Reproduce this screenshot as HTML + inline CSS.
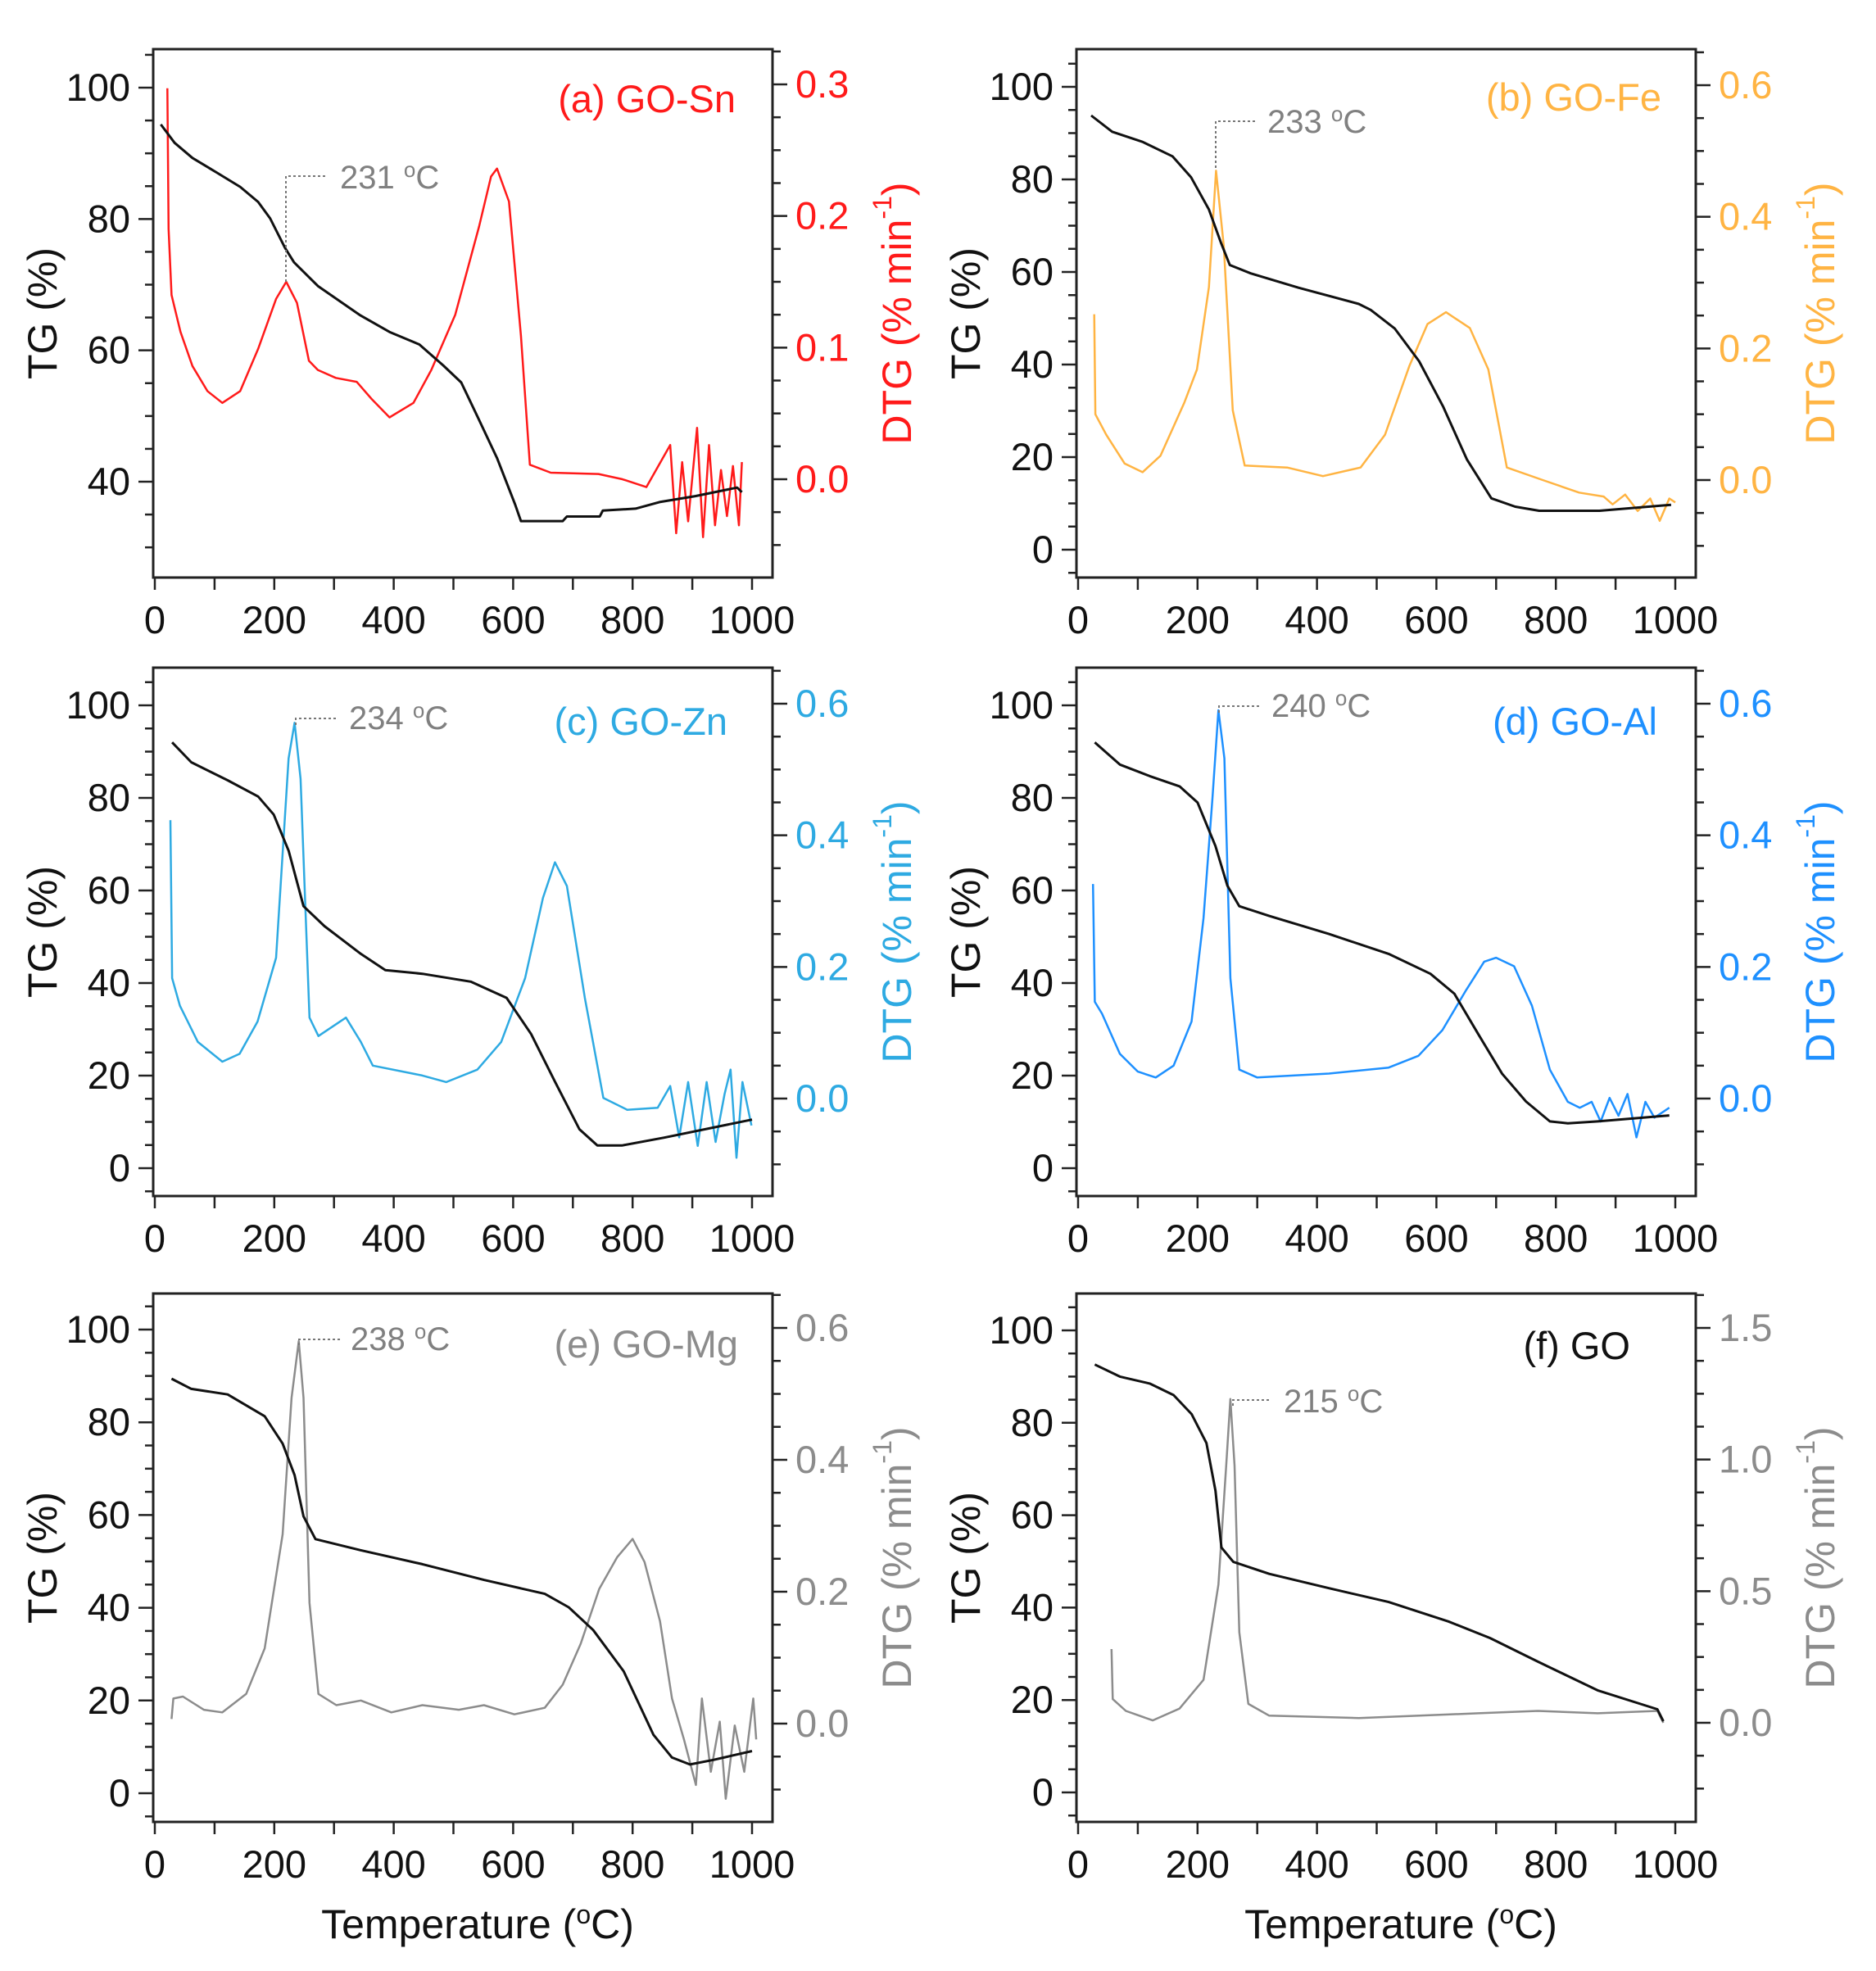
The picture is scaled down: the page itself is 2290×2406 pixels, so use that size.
<!DOCTYPE html>
<html><head><meta charset="utf-8"><style>
html,body{margin:0;padding:0;background:#fff;}
svg{display:block;font-family:"Liberation Sans",Arial,sans-serif;}
</style></head><body>
<svg id="chart" width="2290" height="2406" viewBox="0 0 2290 2406" xmlns="http://www.w3.org/2000/svg"></svg>
<script>
// ---- data (temperature °C, TG %, DTG %/min) ----
const aTgT=[10,33,63,103,143,173,193,218,233,273,343,393,443,483,513,543,573,603,613,683,690,745,750,805,845,905,975,983];
const aTgV=[94.4,91.6,89.3,87.1,84.9,82.6,80.1,75.6,73.4,69.8,65.4,62.8,60.9,57.7,55.1,49.4,43.6,36.6,34,34,34.7,34.7,35.6,35.9,36.9,37.8,39.1,38.4];
const aDtT=[21,23,28,43,63,88,113,143,173,203,220,238,258,273,303,338,363,393,433,463,503,543,563,573,593,613,628,663,743,783,823,863,873,883,893,908,918,928,938,948,958,968,978,983];
const aDtV=[0.297,0.19,0.14,0.112,0.086,0.067,0.058,0.067,0.099,0.137,0.150,0.134,0.090,0.083,0.077,0.074,0.061,0.047,0.058,0.083,0.125,0.192,0.230,0.236,0.211,0.109,0.011,0.005,0.004,0,-0.006,0.026,-0.041,0.013,-0.032,0.039,-0.044,0.026,-0.035,0.007,-0.028,0.010,-0.035,0.013];

const bTgT=[22,57,108,158,189,219,239,254,289,369,470,490,530,571,611,651,692,732,772,873,993];
const bTgV=[93.8,90.3,88.1,85,80.5,73.5,66.4,61.5,59.7,56.6,53.1,51.8,47.8,40.7,31,19.5,11.1,9.3,8.4,8.4,9.7];
const bDtT=[27,29,47,78,108,138,178,199,219,231,244,259,279,350,410,473,514,555,585,616,656,687,718,778,839,880,895,916,937,958,974,990,1000];
const bDtV=[0.252,0.1,0.069,0.025,0.012,0.037,0.118,0.168,0.293,0.470,0.355,0.106,0.022,0.019,0.006,0.019,0.069,0.174,0.237,0.255,0.231,0.168,0.019,0,-0.019,-0.025,-0.037,-0.022,-0.047,-0.028,-0.062,-0.028,-0.034];

const cTgT=[29,61,122,173,199,224,249,284,345,386,448,529,589,630,670,711,741,782,853,1000];
const cTgV=[92,87.7,83.8,80.3,76.4,68.6,56.6,52.3,46.3,42.8,42,40.3,36.8,29,18.7,8.4,4.9,4.9,6.6,10.5];
const cDtT=[26,29,42,72,113,142,172,203,224,234,244,259,274,320,345,365,448,488,540,580,620,650,670,690,720,751,791,842,863,878,893,909,924,939,954,964,974,984,999];
const cDtV=[0.423,0.183,0.141,0.086,0.056,0.068,0.117,0.214,0.517,0.571,0.486,0.123,0.095,0.123,0.086,0.050,0.035,0.025,0.044,0.086,0.183,0.305,0.359,0.323,0.153,0.001,-0.017,-0.014,0.019,-0.059,0.025,-0.072,0.025,-0.066,0.007,0.044,-0.090,0.025,-0.041];

const dTgT=[28,70,120,170,200,230,250,270,320,420,520,590,630,670,710,750,790,820,870,990];
const dTgV=[92,87.2,84.7,82.5,79,69.6,61,56.6,54.5,50.6,46.3,42,37.7,29,20.4,14.4,10.1,9.7,10.1,11.4];
const dDtT=[25,28,40,70,100,130,160,190,210,225,235,245,255,270,300,420,520,570,610,650,680,700,730,760,790,820,840,860,875,890,905,920,935,950,965,990];
const dDtV=[0.326,0.147,0.129,0.068,0.041,0.032,0.050,0.117,0.274,0.456,0.590,0.517,0.183,0.044,0.032,0.038,0.047,0.065,0.104,0.165,0.208,0.214,0.201,0.141,0.044,-0.005,-0.014,-0.005,-0.035,0.001,-0.026,0.007,-0.059,-0.005,-0.029,-0.014];

const eTgT=[28,61,122,184,214,234,249,269,345,448,551,653,693,734,785,835,866,896,936,1000];
const eTgV=[89.4,87.2,86,81.3,75.4,68.6,59.7,54.8,52.4,49.4,46,43,40.1,35.2,26.3,12.6,7.7,6.2,7.2,9.1];
const eDtT=[28,31,47,82,113,153,184,214,229,241,249,259,274,304,345,396,448,509,551,602,653,683,713,744,774,800,820,846,866,886,906,916,931,946,956,971,987,1002,1007];
const eDtV=[0.007,0.038,0.041,0.021,0.017,0.045,0.114,0.287,0.494,0.580,0.494,0.183,0.045,0.028,0.035,0.017,0.028,0.021,0.028,0.014,0.024,0.059,0.121,0.204,0.252,0.280,0.245,0.155,0.038,-0.024,-0.093,0.038,-0.073,0.003,-0.114,-0.003,-0.073,0.038,-0.024];

const fTgT=[28,70,120,160,190,215,230,240,260,320,420,520,620,690,770,870,970,980];
const fTgV=[92.6,90,88.5,86,81.9,75.6,65.3,53,49.9,47.3,44.2,41.2,37,33.4,28.3,22.1,18,15.4];
const fDtT=[56,58,80,125,170,210,235,248,255,262,270,285,320,470,670,770,870,970,980];
const fDtV=[0.280,0.090,0.045,0.009,0.054,0.163,0.525,0.977,1.23,0.977,0.344,0.072,0.027,0.018,0.036,0.045,0.036,0.045,0.0];

const xTickLabels=["0","200","400","600","800","1000"];
const panelLabels=["(a) GO-Sn","(b) GO-Fe","(c) GO-Zn","(d) GO-Al","(e) GO-Mg","(f) GO"];
const peakLabels=["231","233","234","240","238","215"];

const NS="http://www.w3.org/2000/svg";
const svg=document.getElementById('chart');
function mk(tag,attrs,parent){const e=document.createElementNS(NS,tag);for(const k in attrs)e.setAttribute(k,attrs[k]);(parent||svg).appendChild(e);return e;}

const panels=[
 {id:'a',left:187,top:60,color:'#ff1a1a',tgT:aTgT,tgV:aTgV,dtT:aDtT,dtV:aDtV,tgRef:[100,47,40,528],tgMaj:[40,60,80,100],tgMin:[30,105,5],dtRef:[0.3,43,0,525],dtMaj:[0,0.1,0.2,0.3],dtMin:[-0.075,0.326,0.025],dtFmt:1,title:[-45,77],ann:[415,230,349,344,215,400]},
 {id:'b',left:1314,top:60,color:'#ffb443',tgT:bTgT,tgV:bTgV,dtT:bDtT,dtV:bDtV,tgRef:[100,46,0,611],tgMaj:[0,20,40,60,80,100],tgMin:[-5,105,5],dtRef:[0.6,44,0,526],dtMaj:[0,0.2,0.4,0.6],dtMin:[-0.1,0.651,0.05],dtFmt:1,title:[-42,75],ann:[1547,162,1484,205,148,1532]},
 {id:'c',left:187,top:815,color:'#2eaae2',tgT:cTgT,tgV:cTgV,dtT:cDtT,dtV:cDtV,tgRef:[100,46,0,611],tgMaj:[0,20,40,60,80,100],tgMin:[-5,105,5],dtRef:[0.6,44,0,526],dtMaj:[0,0.2,0.4,0.6],dtMin:[-0.1,0.651,0.05],dtFmt:1,title:[-55,82],ann:[426,890,361,885,877,413]},
 {id:'d',left:1314,top:815,color:'#1e90ff',tgT:dTgT,tgV:dTgV,dtT:dDtT,dtV:dDtV,tgRef:[100,46,0,611],tgMaj:[0,20,40,60,80,100],tgMin:[-5,105,5],dtRef:[0.6,44,0,526],dtMaj:[0,0.2,0.4,0.6],dtMin:[-0.1,0.651,0.05],dtFmt:1,title:[-47,82],ann:[1552,875,1488,870,862,1538]},
 {id:'e',left:187,top:1579,color:'#8c8c8c',tgT:eTgT,tgV:eTgV,dtT:eDtT,dtV:eDtV,tgRef:[100,44,0,610],tgMaj:[0,20,40,60,80,100],tgMin:[-5,105,5],dtRef:[0.6,42,0,525],dtMaj:[0,0.2,0.4,0.6],dtMin:[-0.1,0.651,0.05],dtFmt:1,title:[-42,78],ann:[428,1648,365,1642,1635,417]},
 {id:'f',left:1314,top:1579,color:'#8c8c8c',tgT:fTgT,tgV:fTgV,dtT:fDtT,dtV:fDtV,tgRef:[100,45,0,609],tgMaj:[0,20,40,60,80,100],tgMin:[-5,105,5],dtRef:[1.5,42,0,524],dtMaj:[0,0.5,1.0,1.5],dtMin:[-0.25,1.626,0.125],dtFmt:1,title:[-80,80],ann:[1567,1724,1505,1716,1709,1551]}
];
const W=756,H=645;

panels.forEach((p,i)=>{
  const g=mk('g',{});
  
  
  const L=p.left,T=p.top,R=L+W,B=T+H;
  const x=v=>L+2+v*0.729;
  const ty=v=>T+p.tgRef[1]+(p.tgRef[0]-v)*(p.tgRef[3]-p.tgRef[1])/(p.tgRef[0]-p.tgRef[2]);
  const dy=v=>T+p.dtRef[1]+(p.dtRef[0]-v)*(p.dtRef[3]-p.dtRef[1])/(p.dtRef[0]-p.dtRef[2]);
  const ticks=mk('g',{stroke:'#222','stroke-width':2.5},g);
  
  
  for(let v=0;v<=1000;v+=100){mk('line',{x1:x(v),x2:x(v),y1:B,y2:B+15},ticks);}
  for(let v=p.tgMin[0];v<=p.tgMin[1];v+=p.tgMin[2]){const yy=ty(v);if(yy<T||yy>B)continue;const maj=p.tgMaj.indexOf(v)>=0;mk('line',{x1:L-(maj?18:10),x2:L,y1:yy,y2:yy},ticks);}
  for(let v=p.dtMin[0];v<=p.dtMin[1];v+=p.dtMin[2]){const yy=dy(v);if(yy<T||yy>B)continue;const maj=p.dtMaj.some(m=>Math.abs(m-v)<1e-6);mk('line',{x1:R,x2:R+(maj?18:10),y1:yy,y2:yy},ticks);}
  xTickLabels.forEach(s=>{const t=mk('text',{x:x(+s),y:B+68,'text-anchor':'middle','font-size':47,fill:'#111'},g);t.textContent=s;
    });
  p.tgMaj.forEach(v=>{const t=mk('text',{x:L-28,y:ty(v)+16,'text-anchor':'end','font-size':47,fill:'#111'},g);t.textContent=String(v);
    });
  p.dtMaj.forEach(v=>{const t=mk('text',{x:R+28,y:dy(v)+16,'text-anchor':'start','font-size':47,fill:p.color},g);t.textContent=v.toFixed(p.dtFmt);
    });
  const cy=T+H/2;
  const tgt=mk('text',{x:L-135,y:cy,'text-anchor':'middle','font-size':50,fill:'#111',transform:`rotate(-90 ${L-135} ${cy})`,'dominant-baseline':'central'},g);
  tgt.textContent='TG (%)';
  
  const dtt=mk('text',{x:R+152,y:cy,'text-anchor':'middle','font-size':50,fill:p.color,transform:`rotate(-90 ${R+152} ${cy})`,'dominant-baseline':'central'},g);
  dtt.innerHTML='DTG (% min<tspan dy="-18" font-size="32">-1</tspan><tspan dy="18">)</tspan>';
  
  if(i>=4){const xt=mk('text',{x:L+W/2+18,y:2366,'text-anchor':'middle','font-size':50,fill:'#111'},g);
    xt.innerHTML='Temperature (<tspan dy="-18" font-size="32">o</tspan><tspan dy="18">C)</tspan>';
    }
  const dp=p.dtT.map((t,k)=>x(t).toFixed(1)+','+dy(p.dtV[k]).toFixed(1)).join(' ');
  const dl=mk('polyline',{points:dp,fill:'none',stroke:p.color,'stroke-width':2.5,'stroke-linejoin':'round'},g);
  
  const tp=p.tgT.map((t,k)=>x(t).toFixed(1)+','+ty(p.tgV[k]).toFixed(1)).join(' ');
  const tl=mk('polyline',{points:tp,fill:'none',stroke:'#111','stroke-width':3,'stroke-linejoin':'round'},g);
  
  const fr=mk('rect',{x:L,y:T,width:W,height:H,fill:'none',stroke:'#222','stroke-width':3},g);
  
  const tt=mk('text',{x:R+p.title[0],y:T+p.title[1],'text-anchor':'end','font-size':47,fill:(p.id==='f'?'#111':p.color)},g);
  tt.textContent=panelLabels[i];
  
  const a=p.ann;
  const an=mk('polyline',{points:`${a[2]},${a[3]} ${a[2]},${a[4]} ${a[5]},${a[4]}`,fill:'none',stroke:'#777','stroke-width':2,'stroke-dasharray':'3,3'},g);
  
  const at=mk('text',{x:a[0],y:a[1],'font-size':40,fill:'#808080'},g);
  at.innerHTML=peakLabels[i]+' <tspan dy="-14" font-size="26">o</tspan><tspan dy="14">C</tspan>';
  
});
</script>
</body></html>
